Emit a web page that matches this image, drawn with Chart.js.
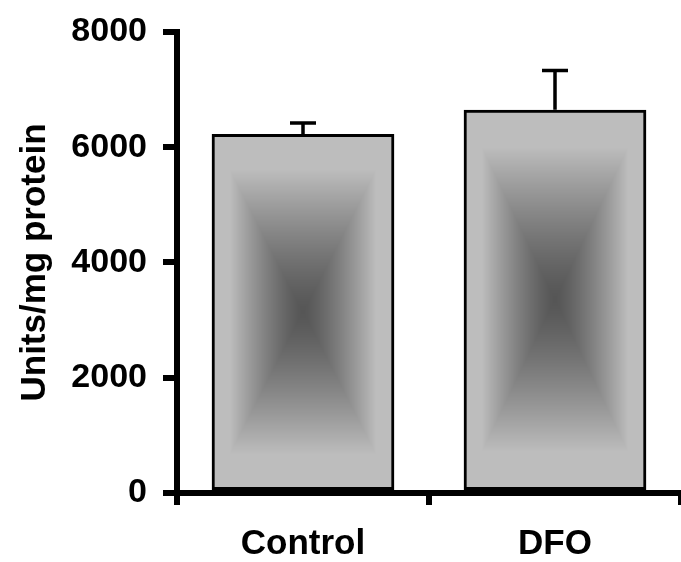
<!DOCTYPE html>
<html>
<head>
<meta charset="utf-8">
<script src="https://cdn.jsdelivr.net/npm/chart.js@4"></script>
<style>
  html, body { margin: 0; padding: 0; background: #fff; }
</style>
</head>
<body>
<canvas id="chart" width="681" height="562"></canvas>
<script>
const categories = ["Control", "DFO"];
const meanValues = [6230, 6650];
const errorValues = [190, 680];
const yTicks = [0, 2000, 4000, 6000, 8000];

const FONT = "'Liberation Sans', Arial, sans-serif";

// grey level from edge (t=1) to centre (t=0)
function shade(t) {
  if (t >= 0.8) return 189;
  return 86 + (189 - 86) * Math.pow(t / 0.8, 1.3);
}

// rectangular "box" gradient: dark in the middle, light at the edges
function boxFill(ctx, left, top, w, h) {
  const off = document.createElement("canvas");
  off.width = Math.max(1, Math.round(w));
  off.height = Math.max(1, Math.round(h));
  const octx = off.getContext("2d");
  const img = octx.createImageData(off.width, off.height);
  const hw = off.width / 2, hh = off.height / 2;
  for (let j = 0; j < off.height; j++) {
    for (let i = 0; i < off.width; i++) {
      const t = Math.max(Math.abs(i + 0.5 - hw) / hw, Math.abs(j + 0.5 - hh) / hh);
      const g = shade(t);
      const k = (j * off.width + i) * 4;
      img.data[k] = g; img.data[k + 1] = g; img.data[k + 2] = g; img.data[k + 3] = 255;
    }
  }
  octx.putImageData(img, 0, 0);
  ctx.drawImage(off, left, top, w, h);
}

const barFillPlugin = {
  id: "barFill",
  beforeDatasetDraw(chart, args) {
    const ctx = chart.ctx;
    args.meta.data.forEach((bar) => {
      const p = bar.getProps(["x", "y", "base", "width"], true);
      boxFill(ctx, p.x - p.width / 2, p.y, p.width, p.base - p.y);
    });
  },
};

const errorBarPlugin = {
  id: "errorBars",
  afterDatasetsDraw(chart) {
    const ctx = chart.ctx;
    const yScale = chart.scales.y;
    const meta = chart.getDatasetMeta(0);
    ctx.save();
    ctx.strokeStyle = "#000";
    ctx.lineWidth = 3.5;
    meta.data.forEach((bar, i) => {
      const p = bar.getProps(["x", "y"], true);
      const yTop = yScale.getPixelForValue(meanValues[i] + errorValues[i]);
      ctx.beginPath();
      ctx.moveTo(p.x, p.y);
      ctx.lineTo(p.x, yTop);
      ctx.moveTo(p.x - 13, yTop);
      ctx.lineTo(p.x + 13, yTop);
      ctx.stroke();
    });
    ctx.restore();
  },
};

new Chart(document.getElementById("chart"), {
  type: "bar",
  data: {
    labels: categories,
    datasets: [
      {
        data: meanValues,
        backgroundColor: "rgba(0,0,0,0)",
        borderColor: "#000",
        borderWidth: 3,
        borderSkipped: false,
        barPercentage: 0.725,
        categoryPercentage: 1.0,
      },
    ],
  },
  options: {
    responsive: false,
    animation: false,
    layout: { padding: 0 },
    plugins: {
      legend: { display: false },
      tooltip: { enabled: false },
    },
    scales: {
      x: {
        border: { color: "#000", width: 6 },
        grid: {
          drawOnChartArea: false,
          drawTicks: true,
          tickLength: 12,
          color: "#000",
          lineWidth: (c) => (c.index === categories.length ? 0 : 6),
        },
        ticks: {
          color: "#000",
          padding: 18,
          font: { family: FONT, size: 35, weight: "bold" },
        },
        afterFit: (scale) => { scale.height = 69; },
      },
      y: {
        min: 0,
        max: 8000,
        afterBuildTicks: (scale) => { scale.ticks = yTicks.map((v) => ({ value: v })); },
        border: { color: "#000", width: 6 },
        grid: {
          drawOnChartArea: false,
          drawTicks: true,
          tickLength: 14,
          color: "#000",
          lineWidth: 6,
        },
        ticks: {
          color: "#000",
          padding: 16,
          callback: (v) => String(v),
          font: { family: FONT, size: 34, weight: "bold", lineHeight: 0.94 },
        },
        title: {
          display: true,
          text: "Units/mg protein",
          color: "#000",
          padding: { top: 14, bottom: 0 },
          font: { family: FONT, size: 35, weight: "bold" },
        },
        afterFit: (scale) => { scale.width = 177; },
      },
    },
  },
  plugins: [barFillPlugin, errorBarPlugin],
});
</script>
</body>
</html>
